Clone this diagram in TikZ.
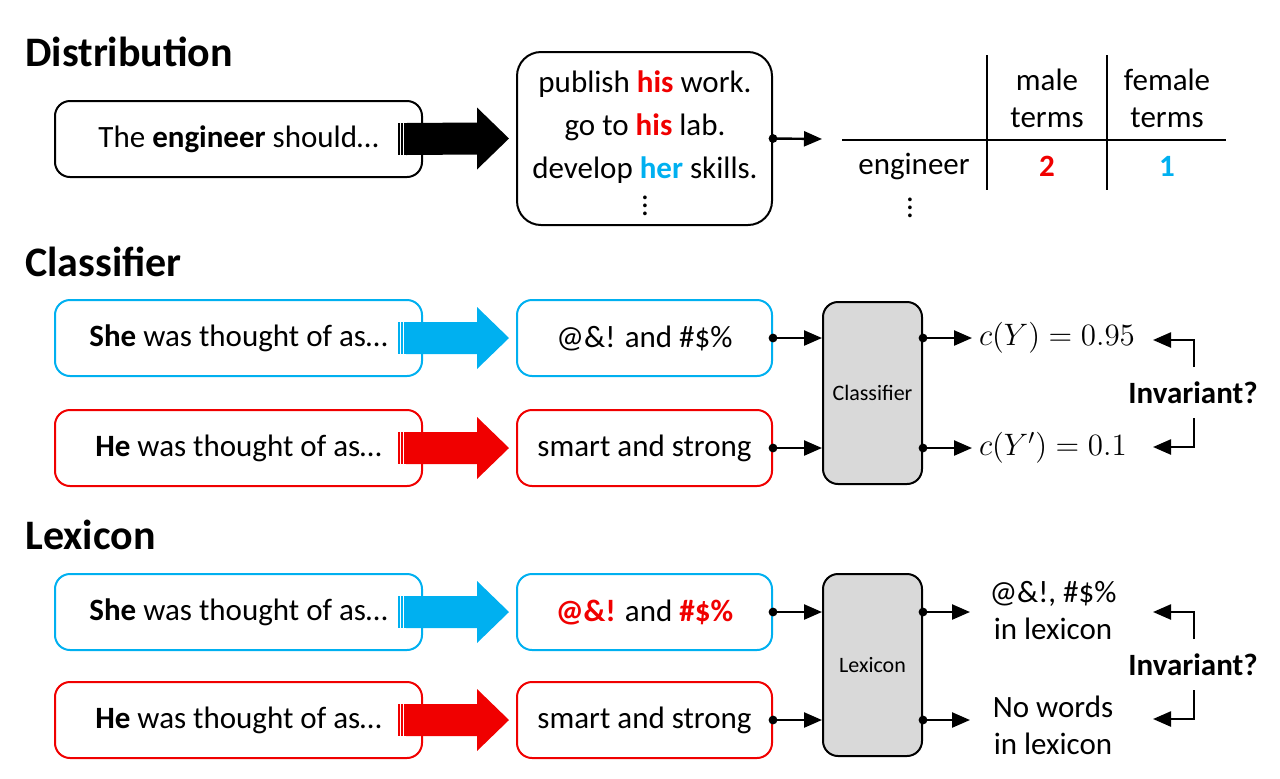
\documentclass[tikz,border=0pt]{standalone}
\usepackage{fix-cm}
\usepackage{fontspec}
\setmainfont{Carlito}
\usetikzlibrary{arrows.meta,calc}

\definecolor{mred}{HTML}{F00000}
\definecolor{mblue}{HTML}{00B0F0}
\definecolor{mgray}{HTML}{D9D9D9}

% wide arrow with three thin bars at its tail
\newcommand{\fatarrow}[3]{%
  \foreach \s in {-25,-22,-19}
    \fill[#1] ($(#2.east)+(\s,-16)$) rectangle ++(1.6,32);
  \fill[#1] ($(#2.east)+(-17,-16)$) -- ($(#3.west)+(-39,-16)$) -- ($(#3.west)+(-39,-31)$)
    -- ($(#3.west)+(-7,0)$) -- ($(#3.west)+(-39,31)$) -- ($(#3.west)+(-39,16)$)
    -- ($(#2.east)+(-17,16)$) -- cycle;
}
% the two hooks around "Invariant?"
\newcommand{\invbracket}[1]{%
  \draw[conn] ($(#1.center)+(1,-26)$) |- ($(#1.center)+(-40,-53)$);
  \draw[conn] ($(#1.center)+(1,25)$) |- ($(#1.center)+(-40,54)$);
}

\begin{document}
\begin{tikzpicture}[x=0.5pt,y=-0.5pt,
    every node/.style={font=\fontsize{15.5}{18.6}\selectfont},
    box/.style={draw,line width=1pt,rounded corners=7.5pt,minimum height=38pt,inner sep=0pt},
    inbox/.style={box,minimum width=183.5pt},
    outbox/.style={box,minimum width=127.5pt},
    model/.style={box,fill=mgray,minimum width=49.5pt,minimum height=91pt,font=\fontsize{11}{13}\selectfont},
    heading/.style={anchor=west,inner sep=0pt,font=\fontsize{21}{25}\selectfont\bfseries},
    twoline/.style={align=center,font=\fontsize{15.5}{18.5}\selectfont},
    conn/.style={line width=1.2pt,-{Triangle[length=9pt,width=7.5pt]}}]
  \useasboundingbox (0,0) rectangle (1280,778);

  % Distribution
  \node[heading] (hdist) at (25,52) {Distribution};
  \node[inbox] (eng) at (238.5,139) {The \textbf{engineer} should…};
  \node[box,minimum width=127.5pt,minimum height=86.5pt,rounded corners=12pt] (gen) at (644.5,138.5) {};
  \node[align=center,font=\fontsize{15.5}{21.5}\selectfont] (gentxt) at (645,143.5)
    {publish \textcolor{mred}{\textbf{his}} work.\\go to \textcolor{mred}{\textbf{his}} lab.\\
     develop \textcolor{mblue}{\textbf{her}} skills.\\[-3pt]$\vdots$};
  \fatarrow{black}{eng}{gen}
  \coordinate (tab) at (822,139);
  \draw[conn] (gen.east) -- (tab);
  \fill (gen.east) circle (2.2pt);

  \draw[line width=0.75pt] (842,140) -- (1226,140);
  \draw[line width=0.75pt] (987,55) -- (987,190);
  \draw[line width=0.75pt] (1107,55) -- (1107,190);
  \node[twoline] (male) at (1047,98) {male\\terms};
  \node[twoline] (female) at (1167,98) {female\\terms};
  \node (roweng) at (914,166) {engineer};
  \node[text=mred] (nmale) at (1047,166) {\textbf{2}};
  \node[text=mblue] (nfemale) at (1167,166) {\textbf{1}};
  \node (rowdots) at (910,202) {$\vdots$};

  % Classifier
  \node[heading] (hclf) at (25,262) {Classifier};
  \node[inbox,draw=mblue] (she1) at (238.5,338) {\textbf{She} was thought of as…};
  \node[outbox,draw=mblue] (sheo1) at (644.5,338) {@\&! and \#\$\%};
  \node[inbox,draw=mred] (he1) at (238.5,448) {\textbf{He} was thought of as…};
  \node[outbox,draw=mred] (heo1) at (644.5,448) {smart and strong};
  \fatarrow{mblue}{she1}{sheo1}
  \fatarrow{mred}{he1}{heo1}
  \node[model] (clf) at (872.5,393) {Classifier};
  \foreach \n in {sheo1,heo1} {
    \draw[conn] (\n.east) -- (\n.east -| clf.west);
    \fill (\n.east) circle (2.2pt);
  }
  \node[anchor=west] (cy1) at (972,338) {$c(Y) = 0.95$};
  \node[anchor=west] (cy2) at (972,448) {$c(Y') = 0.1$};
  \draw[conn] (clf.east |- sheo1) -- (cy1.west);
  \draw[conn] (clf.east |- heo1) -- (cy2.west);
  \fill (clf.east |- sheo1) circle (2.2pt);
  \fill (clf.east |- heo1) circle (2.2pt);
  \node[font=\fontsize{15.5}{18}\selectfont\bfseries] (inv1) at (1193,393) {Invariant?};
  \invbracket{inv1}

  % Lexicon
  \node[heading] (hlex) at (25,535) {Lexicon};
  \node[inbox,draw=mblue] (she2) at (238.5,612) {\textbf{She} was thought of as…};
  \node[outbox,draw=mblue] (sheo2) at (644.5,612)
    {\textcolor{mred}{\textbf{@\&!}} and \textcolor{mred}{\textbf{\#\$\%}}};
  \node[inbox,draw=mred] (he2) at (238.5,720) {\textbf{He} was thought of as…};
  \node[outbox,draw=mred] (heo2) at (644.5,720) {smart and strong};
  \fatarrow{mblue}{she2}{sheo2}
  \fatarrow{mred}{he2}{heo2}
  \node[model] (lex) at (872.5,665) {Lexicon};
  \foreach \n in {sheo2,heo2} {
    \draw[conn] (\n.east) -- (\n.east -| lex.west);
    \fill (\n.east) circle (2.2pt);
  }
  \node[twoline] (lt1) at (1053,611) {@\&!, \#\$\%\\in lexicon};
  \node[twoline] (lt2) at (1053,725) {No words\\in lexicon};
  \coordinate (lo1) at (970,612);
  \coordinate (lo2) at (970,720);
  \draw[conn] (lex.east |- sheo2) -- (lo1);
  \draw[conn] (lex.east |- heo2) -- (lo2);
  \fill (lex.east |- sheo2) circle (2.2pt);
  \fill (lex.east |- heo2) circle (2.2pt);
  \node[font=\fontsize{15.5}{18}\selectfont\bfseries] (inv2) at (1193,665) {Invariant?};
  \invbracket{inv2}
\end{tikzpicture}
\end{document}
